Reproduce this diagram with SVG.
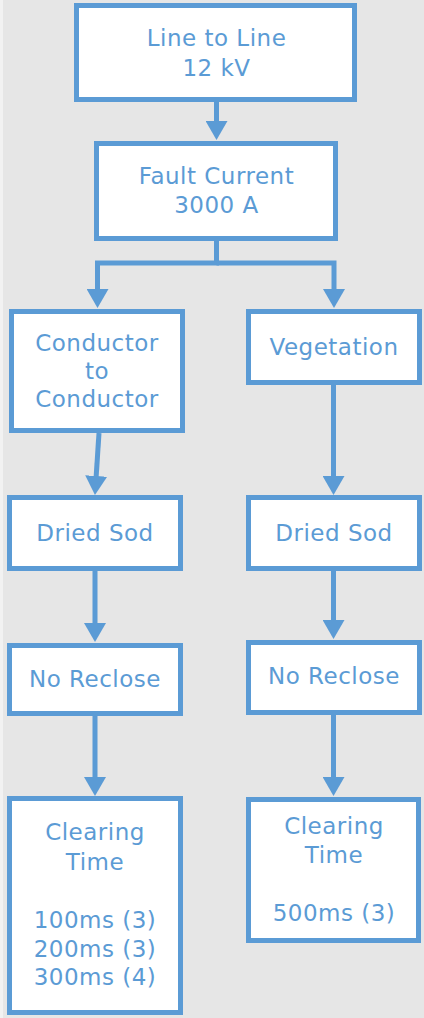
<svg xmlns="http://www.w3.org/2000/svg" width="424" height="1018" viewBox="0 0 424 1018">
  <style>
    .box { fill: #ffffff; stroke: #5b9bd5; stroke-width: 5; }
    .lbl { font-family: "DejaVu Sans", Verdana, sans-serif; font-size: 23px; letter-spacing: 0.5px; fill: #5b9bd5; text-anchor: middle; }
    .wire { fill: none; stroke: #5b9bd5; stroke-width: 5; stroke-linejoin: miter; marker-end: url(#head); }
  </style>
  <defs>
    <marker id="head" markerUnits="userSpaceOnUse" markerWidth="19" markerHeight="22" viewBox="0 0 19 22" refX="3" refY="11" orient="auto">
      <path d="M0,0 L19,11 L0,22 Z" fill="#5b9bd5"/>
    </marker>
  </defs>

  <!-- page background -->
  <rect x="0" y="0" width="424" height="1018" fill="#e6e6e6"/>
  <rect x="0" y="0" width="3" height="1018" fill="#f2f2f2"/>

  <!-- connectors -->
  <g id="connectors">
    <path class="wire" d="M216.5,102 V124"/>
    <path class="wire" d="M216.5,241 V263 H97.5 V292"/>
    <path class="wire" d="M216.5,263 H334 V292"/>
    <path class="wire" d="M99,433 L96,479"/>
    <path class="wire" d="M333.5,385 V479"/>
    <path class="wire" d="M95,571 V626"/>
    <path class="wire" d="M333.5,571 V623"/>
    <path class="wire" d="M95,716 V780"/>
    <path class="wire" d="M333.5,715 V780"/>
  </g>

  <g id="line-to-line">
    <rect class="box" x="76.5" y="5.5" width="278" height="94"/>
    <text class="lbl" x="216.5" y="46">Line to Line</text>
    <text class="lbl" x="216.5" y="76">12 kV</text>
  </g>

  <g id="fault-current">
    <rect class="box" x="96.5" y="143.5" width="239" height="95"/>
    <text class="lbl" x="216.5" y="184">Fault Current</text>
    <text class="lbl" x="216.5" y="213">3000 A</text>
  </g>

  <g id="conductor">
    <rect class="box" x="11.5" y="311.5" width="171" height="119"/>
    <text class="lbl" x="97" y="351">Conductor</text>
    <text class="lbl" x="97" y="379">to</text>
    <text class="lbl" x="97" y="407">Conductor</text>
  </g>

  <g id="vegetation">
    <rect class="box" x="248.5" y="311.5" width="171" height="71"/>
    <text class="lbl" x="334" y="355">Vegetation</text>
  </g>

  <g id="sod-left">
    <rect class="box" x="9.5" y="497.5" width="171" height="71"/>
    <text class="lbl" x="95" y="541">Dried Sod</text>
  </g>

  <g id="sod-right">
    <rect class="box" x="248.5" y="497.5" width="171" height="71"/>
    <text class="lbl" x="334" y="541">Dried Sod</text>
  </g>

  <g id="reclose-left">
    <rect class="box" x="9.5" y="645.5" width="171" height="68"/>
    <text class="lbl" x="95" y="687">No Reclose</text>
  </g>

  <g id="reclose-right">
    <rect class="box" x="248.5" y="642.5" width="171" height="70"/>
    <text class="lbl" x="334" y="684">No Reclose</text>
  </g>

  <g id="clearing-left">
    <rect class="box" x="9.5" y="798.5" width="171" height="214"/>
    <text class="lbl" x="95" y="840">Clearing</text>
    <text class="lbl" x="95" y="870">Time</text>
    <text class="lbl" x="95" y="928">100ms (3)</text>
    <text class="lbl" x="95" y="957">200ms (3)</text>
    <text class="lbl" x="95" y="985">300ms (4)</text>
  </g>

  <g id="clearing-right">
    <rect class="box" x="248.5" y="799.5" width="170" height="141"/>
    <text class="lbl" x="334" y="834">Clearing</text>
    <text class="lbl" x="334" y="863">Time</text>
    <text class="lbl" x="334" y="921">500ms (3)</text>
  </g>
</svg>
